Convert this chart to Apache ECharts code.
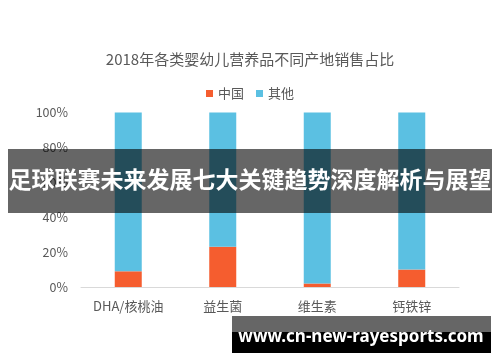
<!DOCTYPE html>
<html><head><meta charset="utf-8">
<script src="https://cdn.jsdelivr.net/npm/echarts@6/dist/echarts.min.js"></script>
<style>html,body{margin:0;padding:0;background:#fff}#c{width:500px;height:362px}</style>
</head><body><div id="c"></div>
<script>
const categories = ['DHA/核桃油', '益生菌', '维生素', '钙铁锌'];
const chinaValues = [9, 23, 2, 10];
const otherValues = [91, 77, 98, 90];
const yTicks = [0, 20, 40, 60, 80, 100];
const titleText = '2018年各类婴幼儿营养品不同产地销售占比';
const bannerText = '足球联赛未来发展七大关键趋势深度解析与展望';
const watermarkText = 'www.cn-new-rayesports.com';

const chart = echarts.init(document.getElementById('c'), null, {renderer: 'canvas'});
const font = '"Noto Sans CJK SC", "Noto Sans", sans-serif';
chart.setOption({
  animation: false,
  title: {text: titleText, left: 'center', top: 47, textStyle: {fontFamily: font, fontSize: 15, fontWeight: 'normal', color: '#595959'}},
  legend: {top: 82, left: 'center', itemWidth: 7, itemHeight: 7, itemGap: 12, icon: 'rect',
    textStyle: {fontFamily: font, fontSize: 13, color: '#595959'}, data: ['中国', '其他']},
  grid: {left: 81, right: 41, top: 112.5, bottom: 75},
  xAxis: {type: 'category', data: categories,
    axisLine: {lineStyle: {color: '#d9d9d9'}}, axisTick: {show: false},
    axisLabel: {fontFamily: font, fontSize: 13, color: '#595959', margin: 13}},
  yAxis: {type: 'value', min: 0, max: 100, interval: 20,
    splitLine: {show: false}, axisLine: {show: false}, axisTick: {show: false},
    axisLabel: {fontFamily: font, fontSize: 12.5, color: '#595959', margin: 13,
      formatter: v => yTicks.includes(v) ? v + '%' : ''}},
  series: [
    {name: '中国', type: 'bar', stack: 's', barWidth: 27, data: chinaValues, itemStyle: {color: '#F55D2F'}},
    {name: '其他', type: 'bar', stack: 's', barWidth: 27, data: otherValues, itemStyle: {color: '#5BC0E2'}}
  ],
  graphic: [
    {type: 'rect', shape: {x: 8, y: 149, width: 484, height: 64}, style: {fill: 'rgba(0,0,0,0.6)'}, z: 100},
    {type: 'text', left: 'center', top: 168, style: {text: bannerText, fill: '#fff', font: 'bold 23px ' + font}, z: 101},
    {type: 'rect', shape: {x: 232, y: 316, width: 259, height: 16}, style: {fill: '#666666'}, z: 100},
    {type: 'rect', shape: {x: 232, y: 332, width: 259, height: 21}, style: {fill: '#000000'}, z: 100},
    {type: 'text', x: 361, y: 337, style: {text: watermarkText, fill: '#fff', font: 'bold 17px "Noto Sans", sans-serif', align: 'center', verticalAlign: 'middle'}, z: 101}
  ]
});
</script></body></html>
